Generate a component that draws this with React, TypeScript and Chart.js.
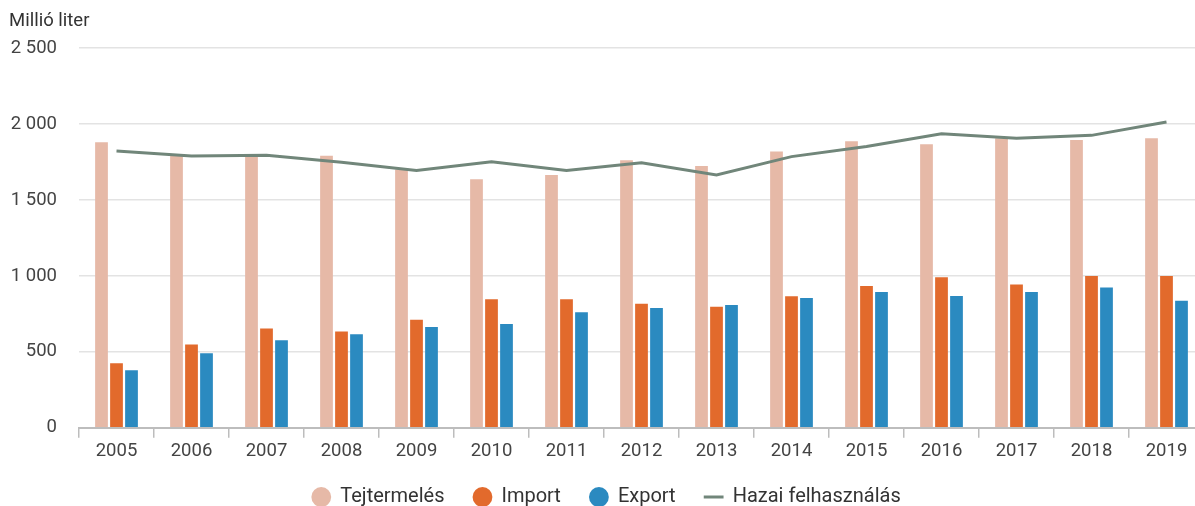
import React, { useEffect, useRef } from 'react';
import { Chart, registerables } from 'chart.js';

Chart.register(...registerables);

const years = ['2005', '2006', '2007', '2008', '2009', '2010', '2011', '2012', '2013', '2014', '2015', '2016', '2017', '2018', '2019'];
const tejtermeles = [1880, 1792, 1792, 1790, 1700, 1636, 1664, 1761, 1724, 1818, 1886, 1866, 1906, 1895, 1906];
const importValues = [425, 548, 654, 634, 711, 846, 846, 817, 797, 866, 934, 991, 943, 1000, 1000];
const exportValues = [378, 491, 577, 615, 663, 683, 760, 789, 808, 855, 894, 868, 894, 923, 837];
const hazaiFelhasznalas = [1822, 1789, 1794, 1748, 1693, 1752, 1693, 1745, 1664, 1785, 1852, 1936, 1906, 1925, 2013];
const yTickLabels = ['0', '500', '1 000', '1 500', '2 000', '2 500'];
const seriesNames = ['Tejtermelés', 'Import', 'Export', 'Hazai felhasználás'];
const unitLabel = 'Millió liter';

const FONT = 'Roboto, "Noto Sans", sans-serif';

const legendShift = {
  id: 'legendShift',
  afterLayout(chart: any) {
    const lg = chart.legend;
    if (lg) {
      lg.top -= 6;
    }
  },
};

export default function App() {
  const canvasRef = useRef<HTMLCanvasElement | null>(null);

  useEffect(() => {
    document.body.style.overflow = 'hidden';
    const canvas = canvasRef.current;
    if (!canvas) return;
    const chart = new Chart(canvas, {
      type: 'bar',
      data: {
        labels: years,
        datasets: [
          {
            type: 'bar',
            label: seriesNames[0],
            data: tejtermeles,
            backgroundColor: '#e6b9a7',
            borderWidth: 0,
            pointStyle: 'circle',
            categoryPercentage: 0.6,
            barPercentage: 0.85,
          },
          {
            type: 'bar',
            label: seriesNames[1],
            data: importValues,
            backgroundColor: '#e26a2c',
            borderWidth: 0,
            pointStyle: 'circle',
            categoryPercentage: 0.6,
            barPercentage: 0.85,
          },
          {
            type: 'bar',
            label: seriesNames[2],
            data: exportValues,
            backgroundColor: '#2b8ac0',
            borderWidth: 0,
            pointStyle: 'circle',
            categoryPercentage: 0.6,
            barPercentage: 0.85,
          },
          {
            type: 'line',
            label: seriesNames[3],
            data: hazaiFelhasznalas,
            borderColor: '#71867a',
            backgroundColor: '#71867a',
            borderWidth: 3,
            pointRadius: 0,
            pointStyle: 'line',
            tension: 0,
            order: -1,
          } as any,
        ],
      },
      options: {
        responsive: false,
        animation: false,
        layout: { padding: { left: 9, right: 0, top: 0, bottom: 0 } },
        plugins: {
          tooltip: { enabled: false },
          title: {
            display: true,
            text: unitLabel,
            align: 'start',
            color: '#333',
            font: { family: FONT, size: 18.5, weight: 'normal' },
            padding: { top: 10, bottom: 15.8 },
          },
          legend: {
            position: 'bottom',
            maxHeight: 42,
            labels: {
              usePointStyle: true,
              boxWidth: 18,
              boxHeight: 14,
              padding: 29,
              color: '#333',
              font: { family: FONT, size: 20 },
              sort: (a: any, b: any) => a.datasetIndex - b.datasetIndex,
            },
          },
        },
        scales: {
          x: {
            offset: true,
            grid: {
              display: true,
              offset: true,
              drawOnChartArea: false,
              drawTicks: true,
              tickLength: 10,
              color: '#bdbdbd',
              lineWidth: 1.5,
            },
            border: { display: true, color: '#bdbdbd', width: 2 },
            ticks: {
              color: '#444',
              padding: 2,
              font: { family: FONT, size: 18.5 },
              maxRotation: 0,
              autoSkip: false,
            },
          },
          y: {
            min: 0,
            max: 2500,
            afterFit: (scale: any) => {
              scale.width = 70;
            },
            border: { display: false },
            grid: { color: '#e3e3e3', lineWidth: 1.5, drawTicks: false },
            ticks: {
              stepSize: 500,
              padding: 22,
              color: '#444',
              font: { family: FONT, size: 18.5 },
              callback: (_v: any, i: number) => yTickLabels[i],
            },
          },
        },
      },
      plugins: [legendShift],
    });
    return () => chart.destroy();
  }, []);

  return (
    <div style={{ position: 'fixed', left: 0, top: 0, width: 1204, height: 506 }}>
      <canvas ref={canvasRef} width={1204} height={506} style={{ width: 1204, height: 506, display: 'block' }} />
    </div>
  );
}
